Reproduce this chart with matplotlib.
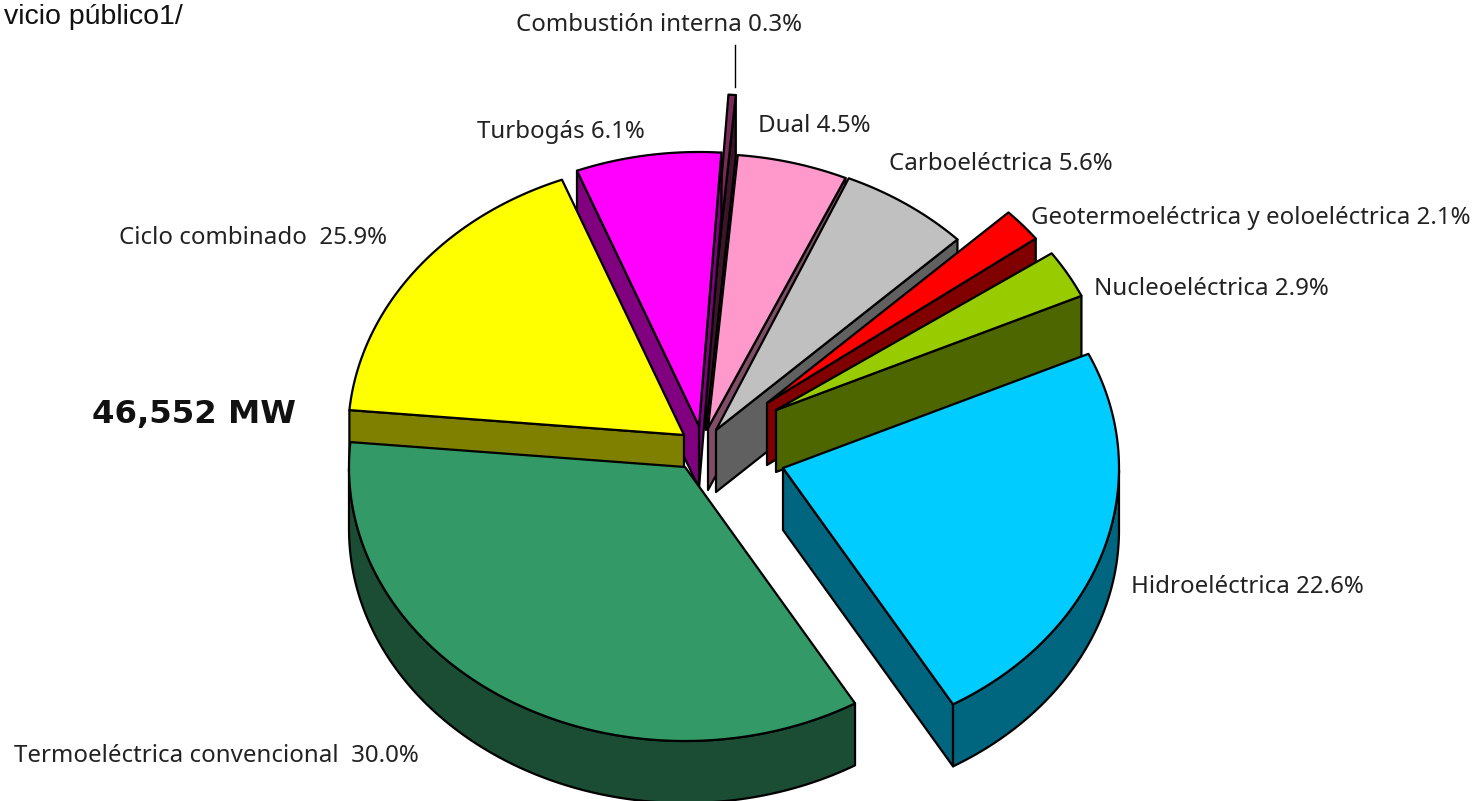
import numpy as np
import matplotlib
matplotlib.use("Agg")
import matplotlib.pyplot as plt
from matplotlib.patches import Polygon

# counter clockwise, starting with the hydro slice
names = ["Hidroeléctrica", "Nucleoeléctrica", "Geotermoeléctrica y eoloeléctrica",
         "Carboeléctrica", "Dual", "Combustión interna", "Turbogás",
         "Ciclo combinado ", "Termoeléctrica convencional "]
# printed percentages
label_pct = [22.6, 2.9, 2.1, 5.6, 4.5, 0.3, 6.1, 25.9, 30.0]
# the wedges as drawn are not the printed numbers, share of circle read off the picture
drawn_share = [23.4, 2.85, 2.55, 6.3, 5.05, 0.35, 6.98, 17.64, 34.9]

top_colors = ["#00ccff", "#99cc00", "#ff0000", "#c0c0c0", "#ff99cc", "#7a2a5a",
              "#ff00ff", "#ffff00", "#339966"]
side_colors = ["#006680", "#4d6600", "#800000", "#606060", "#804d66", "#3d1529",
               "#800080", "#808000", "#1a4d33"]

# exploded apex of each slice in image pixels
apex_xy = [(783, 468), (776, 410), (767, 403), (716, 430), (708, 428), (706, 368),
           (699, 426), (684, 435), (685, 467)]
# the geothermal wedge starts a bit past the end of its neighbour, dual tucks under carbo
trim_start = [0, 0, 2.0, 0, -0.9, 0, 0, 0, 0]
label_xy = [(1131, 587), (1094, 289), (1031, 218), (889, 164), (758, 126), (516, 25),
            (477, 132), (119, 238), (14, 756)]
# back to front
draw_order = [5, 6, 4, 3, 2, 1, 0, 7, 8]

start_angle = -59.6
rx, ry = 336, 274
depth = 62
lw = 1.6


def rim(apex, a0, a1):
    t = np.radians(np.linspace(a0, a1, max(int(a1 - a0) * 2, 2) + 1))
    return np.column_stack([apex[0] + rx * np.cos(t), apex[1] - ry * np.sin(t)])


def wall(ax, top_pts, color):
    pts = np.vstack([top_pts, top_pts[::-1] + [0, depth]])
    ax.add_patch(Polygon(pts, closed=True, fc=color, ec="black", lw=lw, joinstyle="round"))


def draw_slice(ax, apex, a0, a1, top, side):
    arc = rim(apex, a0, a1)
    apex = np.array(apex, dtype=float)
    if np.cos(np.radians(a0)) > 0:
        wall(ax, np.vstack([apex, arc[0]]), side)
    if np.cos(np.radians(a1)) < 0:
        wall(ax, np.vstack([arc[-1], apex]), side)
    # only the part of the rim that faces down shows
    s = np.sin(np.radians(np.linspace(a0, a1, len(arc))))
    if (s < 0).any():
        wall(ax, arc[s < 0], side)
    ax.add_patch(Polygon(np.vstack([apex, arc]), closed=True, fc=top, ec="black", lw=lw,
                         joinstyle="round"))


fig = plt.figure(figsize=(14.79, 8.01), dpi=100)
ax = fig.add_axes([0, 0, 1, 1])
ax.set_xlim(0, 1479)
ax.set_ylim(801, 0)
ax.axis("off")

spans = np.array(drawn_share) / sum(drawn_share) * 360
ends = start_angle + np.cumsum(spans)
starts = ends - spans + np.array(trim_start)
for i in draw_order:
    draw_slice(ax, apex_xy[i], starts[i], ends[i], top_colors[i], side_colors[i])

ax.plot([735, 735], [45, 87], color="black", lw=1)

for name, pct, (x, y) in zip(names, label_pct, label_xy):
    ax.text(x, y, "{} {:.1f}%".format(name, pct), family="Noto Sans", fontsize=17.3,
            color="#222222", ha="left", va="center")

ax.text(92, 414, "46,552 MW", family="DejaVu Sans", fontweight="bold", fontsize=23.3,
        color="#111111", ha="left", va="center")
ax.text(183, 24, "vicio público1/", family="Liberation Sans", fontsize=20.5,
        color="#111111", ha="right", va="baseline")

fig.savefig("out.png", dpi=100)
